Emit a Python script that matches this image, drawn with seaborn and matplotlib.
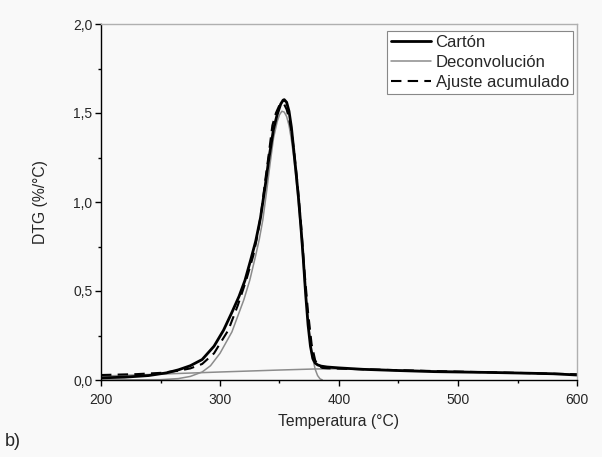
import matplotlib
matplotlib.use("Agg")
import matplotlib.pyplot as plt
import matplotlib.ticker as mticker
import seaborn as sns
import pandas as pd

# ---- data ----
carton_T = [200, 220, 240, 255, 265, 275, 285, 295, 303, 310, 316, 321, 326, 330, 334, 338, 341, 345,
            348, 351, 353, 354, 356, 358, 360, 362, 364, 366, 368, 370, 372, 374, 376, 378, 380, 382,
            385, 390, 400, 420, 450, 480, 500, 530, 560, 580, 600]
carton_y = [0.012, 0.016, 0.025, 0.04, 0.057, 0.08, 0.115, 0.19, 0.28, 0.38, 0.47, 0.56, 0.68, 0.78,
            0.91, 1.09, 1.24, 1.41, 1.49, 1.55, 1.572, 1.575, 1.56, 1.51, 1.42, 1.29, 1.16, 1.02, 0.86,
            0.68, 0.48, 0.31, 0.19, 0.12, 0.095, 0.085, 0.078, 0.073, 0.068, 0.06, 0.053, 0.047, 0.045,
            0.042, 0.038, 0.035, 0.028]

deconv_main_T = [200, 250, 265, 275, 285, 292, 300, 310, 320, 325, 330, 333, 336, 339, 342, 345, 348,
                 350, 352, 354, 356, 358, 360, 362, 365, 368, 371, 374, 377, 380, 382, 384, 386]
deconv_main_y = [0.0, 0.002, 0.008, 0.02, 0.045, 0.08, 0.15, 0.27, 0.45, 0.56, 0.70, 0.79, 0.90, 1.05,
                 1.21, 1.36, 1.45, 1.49, 1.51, 1.505, 1.48, 1.43, 1.35, 1.25, 1.06, 0.83, 0.56, 0.33,
                 0.15, 0.06, 0.025, 0.007, 0.0]

deconv_base_T = [200, 250, 300, 350, 380, 400, 450, 500, 550, 600]
deconv_base_y = [0.022, 0.033, 0.045, 0.056, 0.062, 0.063, 0.056, 0.048, 0.04, 0.032]

fit_T = [200, 230, 250, 265, 275, 285, 295, 300, 307, 315, 322, 328, 332, 335, 338, 341, 344, 347,
         350, 352, 354, 356, 358, 360, 362, 365, 368, 371, 374, 377, 380, 383, 386, 390, 400, 450,
         500, 550, 600]
fit_y = [0.028, 0.033, 0.04, 0.052, 0.065, 0.09, 0.15, 0.205, 0.28, 0.42, 0.56, 0.70, 0.83, 0.96,
         1.12, 1.27, 1.43, 1.50, 1.545, 1.555, 1.548, 1.52, 1.47, 1.40, 1.30, 1.11, 0.88, 0.61, 0.38,
         0.20, 0.11, 0.08, 0.068, 0.066, 0.064, 0.055, 0.047, 0.04, 0.032]

x_ticks = [200, 300, 400, 500, 600]
y_ticks = [0.0, 0.5, 1.0, 1.5, 2.0]
labels = ["Cartón", "Deconvolución", "Ajuste acumulado"]

# ---- styling ----
sns.set_style("ticks")
plt.rcParams["font.family"] = ["Liberation Sans", "DejaVu Sans"]
bg = "#f9f9f9"

fig = plt.figure(figsize=(6.02, 4.57), dpi=100, facecolor=bg)
ax = fig.add_axes([101 / 602, 1 - 380 / 457, 476 / 602, 356 / 457], facecolor=bg)

df_c = pd.DataFrame({"T": carton_T, "y": carton_y})
df_m = pd.DataFrame({"T": deconv_main_T, "y": deconv_main_y})
df_b = pd.DataFrame({"T": deconv_base_T, "y": deconv_base_y})
df_f = pd.DataFrame({"T": fit_T, "y": fit_y})

sns.lineplot(data=df_b, x="T", y="y", ax=ax, color="#8c8c8c", linewidth=1.1, sort=False)
sns.lineplot(data=df_m, x="T", y="y", ax=ax, color="#8c8c8c", linewidth=1.1, sort=False,
             label=labels[1])
sns.lineplot(data=df_c, x="T", y="y", ax=ax, color="black", linewidth=2.0, sort=False,
             label=labels[0])
sns.lineplot(data=df_f, x="T", y="y", ax=ax, color="black", linewidth=1.5, sort=False,
             dashes=False, label=labels[2])
ax.lines[-1].set_linestyle((0, (5.0, 3.0)))

ax.set_xlim(200, 600)
ax.set_ylim(0, 2.0)
ax.set_xticks(x_ticks)
ax.set_yticks(y_ticks)
ax.xaxis.set_minor_locator(mticker.MultipleLocator(50))
ax.yaxis.set_minor_locator(mticker.MultipleLocator(0.25))
ax.set_xticklabels([str(v) for v in x_ticks])
ax.set_yticklabels([f"{v:.1f}".replace(".", ",") for v in y_ticks])
ax.tick_params(which="major", direction="out", length=4.3, width=1.0, labelsize=10,
               color="black")
ax.tick_params(axis="x", which="major", pad=5)
ax.tick_params(axis="y", which="major", pad=2)
ax.tick_params(which="minor", direction="out", length=2.5, width=1.0, color="black")
ax.set_xlabel("Temperatura (°C)", fontsize=11.3, labelpad=5)
ax.set_ylabel("DTG (%/°C)", fontsize=11.3, labelpad=18)

for s in ["left", "bottom"]:
    ax.spines[s].set_color("black")
    ax.spines[s].set_linewidth(1.0)
for s in ["top", "right"]:
    ax.spines[s].set_visible(True)
    ax.spines[s].set_color("#b0b0b0")
    ax.spines[s].set_linewidth(1.0)

h, l = ax.get_legend_handles_labels()
order = [l.index(x) for x in labels]
leg = ax.legend([h[i] for i in order], [l[i] for i in order], loc="upper right",
                bbox_to_anchor=(1 - 4 / 476, 1 - 7 / 356),
                fontsize=12, frameon=True, fancybox=False, edgecolor="#888888",
                facecolor="white", framealpha=1.0, handlelength=2.4, handletextpad=0.25,
                borderpad=0.25, labelspacing=0.3, borderaxespad=0.0)
leg.get_frame().set_linewidth(0.8)

fig.text(0.008, 0.025, "b)", fontsize=13)

fig.savefig("out.png", dpi=100, facecolor=bg)
